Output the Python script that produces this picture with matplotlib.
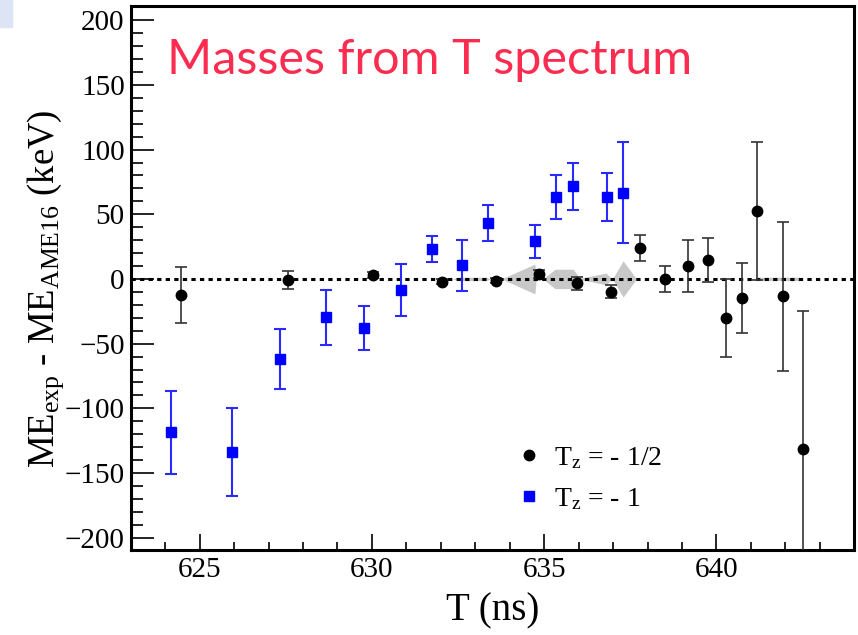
import matplotlib
matplotlib.use("Agg")
import matplotlib.pyplot as plt
from matplotlib.patches import Rectangle

SERIF = ["Liberation Serif", "DejaVu Serif"]
plt.rcParams["font.family"] = SERIF
plt.rcParams["mathtext.fontset"] = "custom"
plt.rcParams["mathtext.rm"] = "Liberation Serif"
plt.rcParams["mathtext.it"] = "Liberation Serif:italic"
plt.rcParams["mathtext.bf"] = "Liberation Serif:bold"

# T_z = -1/2 nuclides: revolution time (ns), mass-excess difference (keV), error (keV)
half_T = [624.45, 627.57, 630.03, 632.03, 633.59, 634.85, 635.96, 636.94, 637.77,
          638.51, 639.17, 639.74, 640.29, 640.74, 641.18, 641.94, 642.52]
half_dME = [-12.5, -0.5, 3.0, -2.0, -1.5, 4.0, -3.5, -10.0, 24.0,
            0.0, 10.0, 14.5, -30.0, -14.5, 52.5, -13.5, -131.5]
half_err = [21.5, 7.0, 2.0, 2.0, 2.0, 3.0, 5.0, 5.0, 10.0,
            10.0, 20.0, 17.0, 30.0, 27.0, 53.0, 57.5, 107.0]

# T_z = -1 nuclides
one_T = [624.18, 625.93, 627.34, 628.66, 629.78, 630.85, 631.75, 632.61, 633.37,
         634.72, 635.35, 635.84, 636.83, 637.30]
one_dME = [-118.5, -134.0, -62.0, -29.7, -38.0, -8.5, 23.0, 10.5, 43.5,
           29.0, 63.5, 71.5, 63.5, 66.5]
one_err = [32.0, 34.0, 23.0, 21.5, 17.0, 20.0, 10.0, 19.5, 14.0,
           12.5, 17.0, 18.0, 18.5, 39.0]

# AME16 uncertainty band around zero
band_T = [632.35, 632.5, 633.3, 633.45, 633.76, 634.73, 634.77, 634.97, 635.31,
          635.84, 636.04, 636.8, 636.96, 636.98, 637.29, 637.68, 641.1, 641.2,
          642.4, 642.5]
band_half = [0.0, 1.3, 1.3, 0.0, 0.0, 11.5, 0.0, 0.0, 7.5,
             7.5, 0.5, 4.5, 0.0, 0.0, 14.0, 0.0, 0.0, 1.3,
             1.3, 0.0]

x_ticks = [625, 630, 635, 640]
x_labels = ["625", "630", "635", "640"]
y_ticks = [-200, -150, -100, -50, 0, 50, 100, 150, 200]
y_labels = ["\u2212200", "\u2212150", "\u2212100", "\u221250", "0",
            "50", "100", "150", "200"]

fig = plt.figure(figsize=(8.58, 6.35), dpi=100)
ax = fig.add_axes([0.1523, 0.1339, 0.9957 - 0.1523, 0.9906 - 0.1339])

ax.set_xlim(623.0, 644.0)
ax.set_ylim(-209.5, 211.0)

ax.fill_between(band_T, [-h for h in band_half], band_half,
                color="#c8c8c8", lw=0, zorder=1)
ax.axhline(0, color="black", lw=2.2, ls=(0, (1.4, 1.4)), zorder=2)

ax.errorbar(half_T, half_dME, yerr=half_err, fmt="o", color="black",
            ecolor="#333333", elinewidth=1.2, capsize=4, capthick=1.2,
            markersize=7.5, zorder=4, label=r"T$_{\mathrm{z}}$ = - 1/2")
ax.errorbar(one_T, one_dME, yerr=one_err, fmt="s", color="#0000ff",
            ecolor="#2a2aff", elinewidth=1.5, capsize=4, capthick=1.5,
            markersize=7.2, zorder=3, label=r"T$_{\mathrm{z}}$ = - 1")

ax.set_xticks(x_ticks)
ax.set_xticklabels(x_labels, family=SERIF, fontsize=21)
ax.set_xticks(range(623, 645), minor=True)
ax.set_yticks(y_ticks)
ax.set_yticklabels(y_labels, family=SERIF, fontsize=21)
ax.set_yticks(range(-200, 211, 10), minor=True)

for s in ax.spines.values():
    s.set_linewidth(2.2)
ax.tick_params(axis="both", which="both", direction="in", top=False, right=False,
               width=1.2)
ax.tick_params(axis="y", which="major", length=16.5, pad=4.3)
ax.tick_params(axis="y", which="minor", length=8.5)
ax.tick_params(axis="x", which="major", length=11.5, pad=5)
ax.tick_params(axis="x", which="minor", length=6)

ax.set_xlabel("T (ns)", fontsize=28, labelpad=7, family=SERIF)
ax.set_ylabel(r"ME$_{\mathrm{exp}}$ - ME$_{\mathrm{AME16}}$ (keV)", fontsize=26.5,
              family=SERIF)
ax.yaxis.set_label_coords(-0.09, 0.48)

handles, labels = ax.get_legend_handles_labels()
handles = [h[0] for h in handles]
ax.legend(handles, labels, loc="upper left",
          bbox_to_anchor=(515 / 858, 1 - 445 / 635), bbox_transform=fig.transFigure,
          frameon=False, prop={"family": SERIF, "size": 20}, borderpad=0,
          borderaxespad=0, handletextpad=0.42, labelspacing=0.55, handlelength=1.0)

fig.text(167 / 858, 1 - 74 / 635, "Masses from T spectrum", color="#fa2d50",
         fontsize=35, family="Lato", va="baseline", ha="left")

fig.patches.append(Rectangle((0, 1 - 27 / 635), 12 / 858, 27 / 635,
                             transform=fig.transFigure, color="#dde4f5",
                             zorder=0))

fig.savefig("out.png", dpi=100)
